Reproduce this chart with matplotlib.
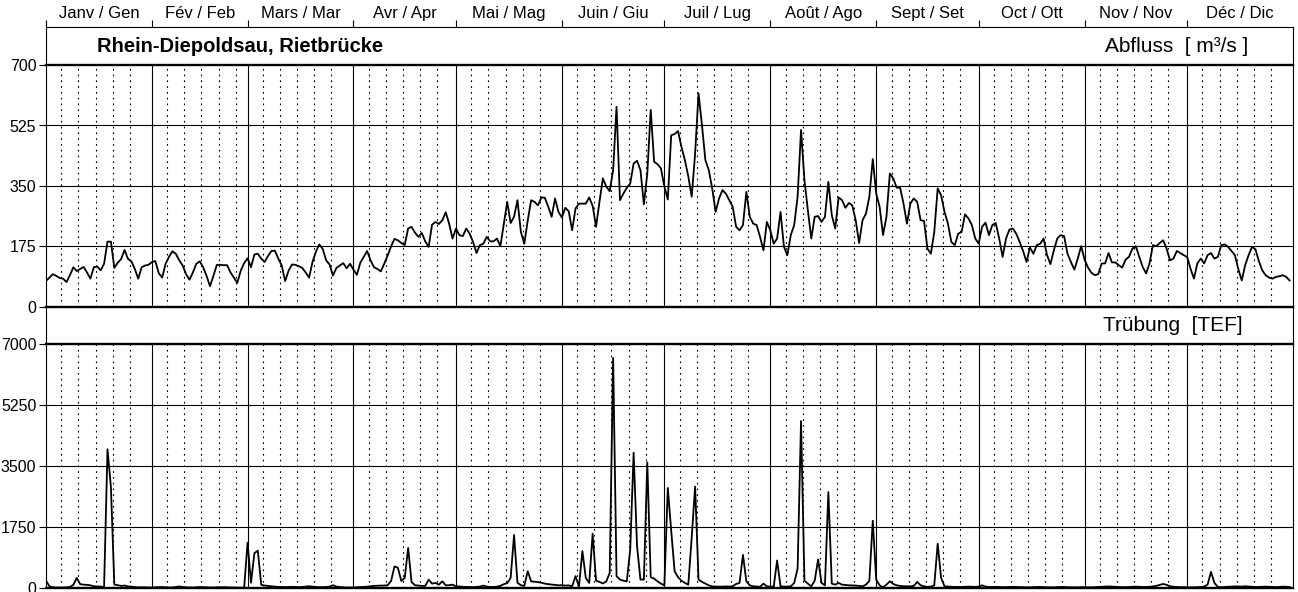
import numpy as np
import matplotlib
matplotlib.use("Agg")
import matplotlib.pyplot as plt

plt.rcParams['font.family'] = ['Liberation Sans', 'DejaVu Sans']

# month labels (French / Italian)
months = ["Janv / Gen", "Fév / Feb", "Mars / Mar", "Avr / Apr", "Mai / Mag", "Juin / Giu",
          "Juil / Lug", "Août / Ago", "Sept / Set", "Oct / Ott", "Nov / Nov", "Déc / Dic"]
days_in_month = [31, 28, 31, 30, 31, 30, 31, 31, 30, 31, 30, 31]

# daily discharge Abfluss [m3/s]
abfluss = [
    75, 85, 95, 90, 84, 82, 72, 92, 115, 104,
    110, 116, 100, 82, 115, 117, 106, 125, 189, 189,
    113, 128, 139, 165, 139, 132, 110, 82, 115, 120,
    122, 130, 133, 98, 85, 125, 145, 161, 154, 135,
    120, 95, 79, 100, 125, 132, 115, 90, 60, 90,
    122, 122, 121, 121, 100, 85, 70, 105, 127, 141,
    115, 152, 154, 140, 130, 148, 162, 163, 140, 120,
    75, 105, 123, 122, 118, 113, 100, 85, 130, 160,
    181, 168, 135, 123, 91, 113, 120, 127, 112, 125,
    108, 93, 128, 145, 162, 135, 115, 110, 103, 125,
    149, 175, 197, 193, 185, 179, 227, 232, 215, 203,
    214, 190, 174, 238, 246, 240, 251, 274, 241, 198,
    227, 208, 205, 227, 212, 188, 156, 179, 183, 203,
    190, 190, 198, 176, 240, 304, 243, 261, 309, 217,
    183, 250, 309, 304, 294, 317, 316, 290, 261, 314,
    275, 259, 287, 277, 222, 285, 299, 299, 299, 317,
    293, 232, 304, 372, 348, 335, 396, 579, 309, 328,
    345, 357, 415, 423, 396, 297, 386, 570, 420, 413,
    401, 348, 311, 497, 500, 509, 463, 425, 378, 319,
    444, 618, 526, 425, 396, 343, 275, 314, 338, 328,
    309, 290, 232, 222, 237, 333, 261, 241, 237, 203,
    164, 246, 222, 183, 198, 275, 174, 150, 208, 237,
    319, 512, 367, 280, 198, 261, 263, 246, 261, 362,
    266, 227, 317, 309, 287, 301, 294, 251, 185, 251,
    270, 319, 428, 328, 290, 208, 261, 386, 372, 345,
    345, 299, 241, 299, 314, 304, 251, 249, 169, 154,
    217, 343, 323, 275, 241, 188, 179, 212, 217, 268,
    256, 237, 198, 183, 232, 244, 208, 237, 243, 198,
    145, 198, 224, 227, 212, 188, 162, 130, 172, 154,
    179, 183, 198, 150, 124, 164, 198, 208, 205, 154,
    130, 108, 140, 176, 137, 114, 99, 92, 95, 126,
    126, 156, 129, 129, 121, 114, 137, 145, 169, 176,
    145, 116, 97, 126, 179, 176, 185, 193, 169, 135,
    140, 162, 156, 150, 145, 111, 82, 126, 140, 126,
    150, 156, 140, 145, 179, 181, 174, 162, 150, 109,
    77, 121, 150, 174, 167, 133, 106, 92, 85, 82,
    87, 89, 92, 87, 77,
]

# daily turbidity Truebung [TEF]
truebung = [
    210, 50, 20, 15, 15, 15, 20, 30, 90, 290,
    110, 96, 90, 77, 50, 45, 40, 30, 3980, 2900,
    100, 80, 60, 70, 45, 40, 25, 20, 20, 20,
    15, 15, 20, 25, 30, 20, 15, 15, 30, 45,
    30, 20, 15, 15, 20, 30, 25, 20, 15, 15,
    20, 20, 25, 20, 15, 15, 10, 10, 10, 1300,
    150, 1000, 1070, 90, 70, 60, 50, 40, 30, 30,
    25, 30, 35, 30, 25, 30, 40, 50, 40, 30,
    25, 25, 30, 40, 80, 40, 30, 20, 15, 15,
    15, 20, 30, 30, 40, 50, 60, 65, 70, 70,
    80, 200, 620, 580, 200, 290, 1150, 170, 80, 70,
    60, 60, 240, 125, 145, 96, 193, 77, 80, 96,
    48, 40, 35, 30, 30, 25, 30, 40, 70, 40,
    30, 30, 40, 60, 110, 140, 290, 1520, 150, 80,
    60, 480, 190, 180, 170, 150, 125, 110, 100, 90,
    77, 80, 70, 75, 50, 340, 40, 1060, 290, 145,
    1560, 210, 175, 130, 190, 430, 6600, 340, 240, 210,
    190, 1100, 3880, 1200, 240, 240, 3600, 310, 270, 190,
    125, 77, 2870, 1640, 480, 310, 210, 145, 96, 1450,
    2910, 240, 175, 125, 77, 48, 40, 40, 40, 45,
    40, 50, 115, 145, 950, 190, 77, 48, 40, 35,
    125, 48, 40, 40, 790, 48, 40, 40, 45, 145,
    560, 4790, 210, 125, 48, 210, 820, 145, 77, 2750,
    125, 96, 145, 96, 85, 77, 75, 70, 60, 48,
    96, 210, 1930, 240, 77, 20, 96, 193, 116, 77,
    60, 50, 48, 48, 60, 174, 77, 50, 30, 40,
    77, 1270, 290, 48, 40, 35, 30, 30, 30, 35,
    40, 35, 30, 40, 77, 40, 30, 30, 35, 30,
    25, 25, 30, 35, 30, 25, 25, 20, 20, 25,
    30, 30, 25, 20, 20, 20, 25, 30, 30, 25,
    20, 20, 20, 25, 25, 20, 20, 25, 30, 35,
    40, 45, 40, 35, 30, 25, 25, 30, 35, 40,
    35, 30, 30, 35, 45, 60, 90, 116, 90, 50,
    35, 30, 25, 25, 20, 20, 20, 25, 30, 40,
    96, 463, 145, 30, 25, 30, 35, 40, 45, 45,
    40, 48, 40, 35, 30, 30, 35, 40, 35, 30,
    25, 30, 40, 35, 30,
]

W, H = 1298, 592
fig = plt.figure(figsize=(W / 100, H / 100), dpi=100)


def box(x0, y0, x1, y1):
    # pixel box (top-left origin) -> figure fraction
    return [x0 / W, 1 - y1 / H, (x1 - x0) / W, (y1 - y0) / H]


month_starts = np.concatenate([[0], np.cumsum(days_in_month)[:-1]])
month_mid = month_starts + np.array(days_in_month) / 2.0
days = np.arange(len(abfluss))

# header band with the station name and month labels
ax_head = fig.add_axes(box(46, 27, 1293, 65))
ax_head.set_xlim(0, 365)
ax_head.set_ylim(0, 1)
ax_head.set_yticks([])
ax_head.set_xticks(month_starts)
ax_head.set_xticks(month_mid, minor=True)
ax_head.set_xticklabels(months, minor=True)
ax_head.tick_params(axis='x', which='major', top=True, bottom=False, labeltop=False,
                    labelbottom=False, direction='out', length=5, width=0.8)
ax_head.tick_params(axis='x', which='minor', top=True, bottom=False, labeltop=True,
                    labelbottom=False, length=0, pad=4, labelsize=12)
ax_head.spines['bottom'].set_visible(False)
for s in ['top', 'left', 'right']:
    ax_head.spines[s].set_linewidth(0.8)
ax_head.text(0.041, 0.5, "Rhein-Diepoldsau, Rietbrücke", transform=ax_head.transAxes,
             ha='left', va='center', fontsize=14.5, fontweight='bold')
ax_head.text(0.964, 0.5, "Abfluss  [ m³/s ]", transform=ax_head.transAxes,
             ha='right', va='center', fontsize=15)

# middle band
ax_mid = fig.add_axes(box(46, 307, 1293, 344))
ax_mid.set_xlim(0, 365)
ax_mid.set_xticks([])
ax_mid.set_yticks([])
ax_mid.spines['top'].set_visible(False)
ax_mid.spines['bottom'].set_visible(False)
for s in ['left', 'right']:
    ax_mid.spines[s].set_linewidth(0.8)
ax_mid.text(0.96, 0.5, "Trübung  [TEF]", transform=ax_mid.transAxes,
            ha='right', va='center', fontsize=15)


def panel(rect, values, ymax):
    ax = fig.add_axes(rect)
    ax.set_xlim(0, 365)
    ax.set_ylim(0, ymax)
    ax.set_xticks([])
    ax.set_yticks(np.linspace(0, ymax, 5))
    ax.set_yticklabels([f"{v:.0f}" for v in np.linspace(0, ymax, 5)])
    ax.tick_params(axis='y', direction='out', length=5, width=0.8, labelsize=11.5, pad=2)
    ax.spines['top'].set_linewidth(1.7)
    ax.spines['bottom'].set_linewidth(1.7)
    ax.spines['left'].set_linewidth(0.8)
    ax.spines['right'].set_linewidth(0.8)
    for v in np.linspace(0, ymax, 5)[1:-1]:
        ax.axhline(v, color='black', lw=0.8, zorder=1)
    for m in month_starts[1:]:
        ax.axvline(m, color='black', lw=0.8, zorder=1)
    for m in month_starts:
        for k in [4.5, 9.5, 14.5, 19.5, 24.5]:
            ax.axvline(m + k, color='black', lw=0.8, linestyle=(0, (1.6, 3.6)), zorder=1)
    ax.plot(days, values, color='black', lw=1.3, zorder=3)
    return ax


ax_q = panel(box(46, 65, 1293, 307), abfluss, 700)
ax_t = panel(box(46, 344, 1293, 588), truebung, 7000)

fig.savefig("out.png", dpi=100)
